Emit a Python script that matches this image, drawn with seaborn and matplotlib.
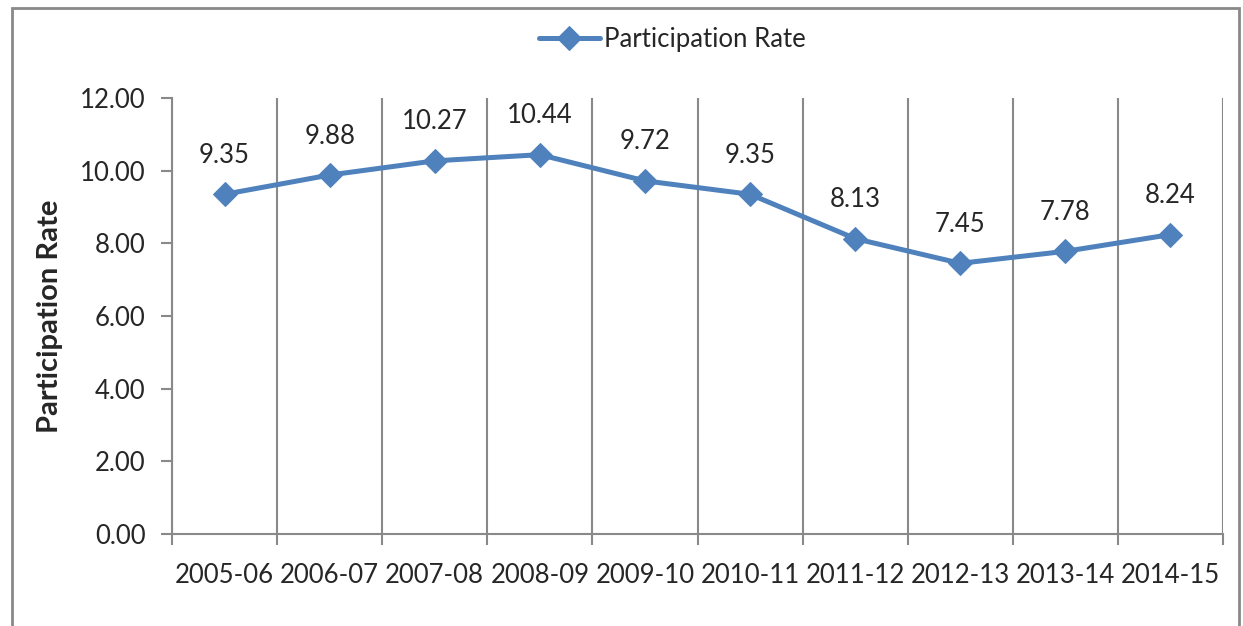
import numpy as np
import pandas as pd
import matplotlib
matplotlib.use('Agg')
import matplotlib.pyplot as plt
import matplotlib.patches as patches
from matplotlib.ticker import FixedLocator
import seaborn as sns

# data
years = ["2005-06", "2006-07", "2007-08", "2008-09", "2009-10",
         "2010-11", "2011-12", "2012-13", "2013-14", "2014-15"]
rates = [9.35, 9.88, 10.27, 10.44, 9.72, 9.35, 8.13, 7.45, 7.78, 8.24]

df = pd.DataFrame({"year": years, "rate": rates})

sns.set_style("white")
plt.rcParams['font.family'] = ['Lato', 'DejaVu Sans']

W, H = 1243, 626
fig = plt.figure(figsize=(W / 100, H / 100), dpi=100)
ax = fig.add_axes([172 / W, 1 - 534 / H, (1223 - 172) / W, (534 - 98) / H])

blue = "#4F81BD"
grey = "#898989"
fs = 18.5

sns.lineplot(data=df, x="year", y="rate", ax=ax, color=blue, linewidth=3.6,
             marker="D", markersize=12, markeredgecolor=blue,
             label="Participation Rate", sort=False)

# data labels
for i, v in enumerate(rates):
    ax.annotate(f"{v:.2f}", (i, v), xytext=(0, 28), textcoords="offset points",
                ha="center", va="center", fontsize=fs)

ax.set_xlim(-0.5, len(years) - 0.5)
ax.set_ylim(0, 12)
ax.set_yticks(np.arange(0, 12.01, 2))
ax.set_yticklabels([f"{t:.2f}" for t in np.arange(0, 12.01, 2)])

# category boundary gridlines / ticks
ax.xaxis.set_minor_locator(FixedLocator(np.arange(-0.5, len(years), 1)))
ax.grid(which="minor", axis="x", color=grey, linewidth=1.5)
ax.grid(which="major", visible=False)
ax.tick_params(axis="x", which="major", length=0, pad=21, labelsize=fs)
ax.tick_params(axis="x", which="minor", length=8, width=1.5, color=grey,
               direction="out", bottom=True)
ax.tick_params(axis="y", which="major", length=8, width=1.5, color=grey,
               direction="out", left=True, pad=11, labelsize=fs)

for s in ["top", "right"]:
    ax.spines[s].set_visible(False)
for s in ["left", "bottom"]:
    ax.spines[s].set_color(grey)
    ax.spines[s].set_linewidth(1.5)

ax.set_xlabel("")
ax.set_ylabel("Participation Rate", fontsize=21, fontweight="bold", labelpad=12)

leg = ax.legend(loc="upper center", bbox_to_anchor=(0.476, 1.217), frameon=False,
                fontsize=fs, handlelength=2.4, handletextpad=0.15)

# outer chart border
fig.patches.append(patches.Rectangle((12 / W, -0.05), (1239 - 12) / W, 1 - 8 / H + 0.05,
                                     transform=fig.transFigure, fill=False,
                                     edgecolor=grey, linewidth=2))

fig.savefig("out.png", dpi=100)
